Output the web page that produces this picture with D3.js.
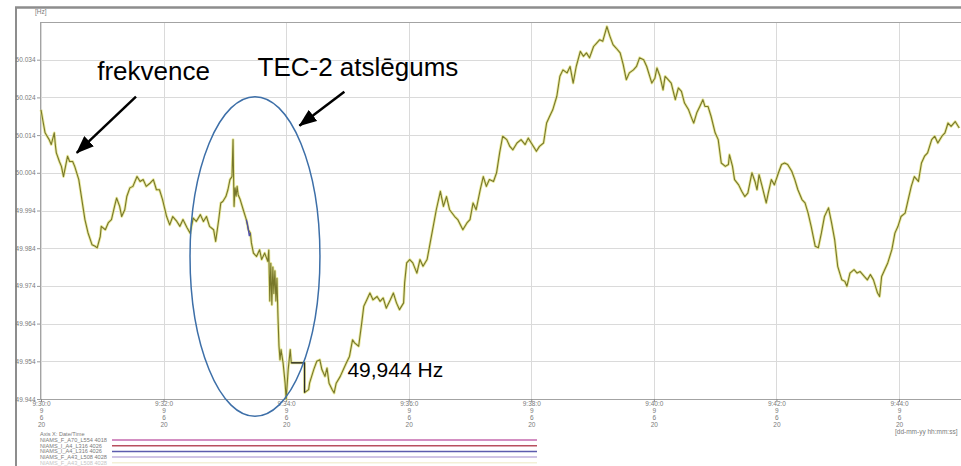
<!DOCTYPE html>
<html>
<head>
<meta charset="utf-8">
<script src="https://cdn.jsdelivr.net/npm/d3@7"></script>
<style>
  html, body { margin: 0; padding: 0; background: #fff; }
  svg { display: block; }
  .tick-text { font-family: "Liberation Sans", Arial, sans-serif; font-size: 6.5px; fill: #7a7a7a; }
  .legend-text { font-family: "Liberation Sans", Arial, sans-serif; font-size: 5.6px; fill: #7a7a7a; }
  .note { font-family: "Liberation Sans", Arial, sans-serif; fill: #000; }
</style>
</head>
<body>
<svg id="chart" width="961" height="466"></svg>
<script>
// Seconds after 09:30:00 (9 June 2020) and measured grid frequency, Hz
const secs = [
  0, 2, 4, 6, 8, 10, 13, 14, 15, 18, 20, 22, 24, 26, 28, 31, 33, 37, 40, 43,
  46, 50, 53, 55, 58, 59, 63, 66, 69, 72, 74, 77, 79, 82, 84, 87, 90, 94, 97, 100,
  103, 107, 110, 113, 116, 119, 123, 126, 129, 133, 136, 139, 143, 146, 149, 152, 156, 159, 162, 165,
  169, 171, 174, 176, 178, 181, 183, 185, 187, 188, 189, 190, 191, 192, 193, 195, 198, 201, 203, 205,
  206, 208, 211, 214, 216, 219, 222, 223, 224, 225, 226, 227, 228, 229, 230, 231, 232, 233, 234, 235,
  237, 239, 240, 242, 244, 245, 258, 258, 262, 263, 267, 270, 273, 275, 278, 280, 282, 285, 287, 289,
  293, 296, 299, 302, 305, 307, 311, 314, 316, 319, 322, 325, 329, 332, 335, 338, 342, 345, 348, 351,
  355, 356, 358, 361, 364, 368, 371, 374, 378, 381, 384, 387, 391, 394, 397, 400, 405, 408, 413, 417,
  420, 423, 426, 430, 433, 436, 439, 443, 446, 449, 452, 456, 459, 462, 466, 470, 474, 477, 480, 485,
  488, 492, 495, 498, 501, 505, 508, 511, 515, 518, 521, 524, 528, 531, 534, 537, 541, 544, 547, 550,
  554, 557, 560, 563, 567, 570, 573, 576, 580, 583, 586, 590, 593, 598, 601, 603, 606, 609, 611, 614,
  617, 621, 624, 627, 630, 634, 637, 639, 642, 645, 648, 650, 653, 656, 660, 663, 666, 670, 673, 674,
  677, 679, 683, 686, 689, 692, 696, 699, 701, 703, 706, 710, 712, 715, 718, 722, 725, 728, 731, 735,
  738, 741, 745, 748, 751, 754, 758, 761, 764, 767, 771, 774, 777, 780, 784, 787, 789, 792, 796, 799,
  802, 806, 809, 812, 815, 819, 821, 823, 826, 829, 833, 836, 839, 842, 846, 849, 852, 855, 859, 862,
  865, 868, 872, 875, 878, 882, 885, 888, 891, 895, 899
];
const freqHz = [
  50.0207, 50.0176, 50.0146, 50.0137, 50.0128, 50.0115, 50.0146, 50.0115, 50.0093, 50.0070,
  50.0057, 50.0030, 50.0057, 50.0084, 50.0070, 50.0070, 50.0057, 50.0022, 49.9969, 49.9916,
  49.9881, 49.9849, 49.9845, 49.9841, 49.9871, 49.9898, 49.9889, 49.9908, 49.9916, 49.9951,
  49.9973, 49.9951, 49.9924, 49.9942, 49.9977, 50.0000, 50.0004, 50.0030, 50.0017, 50.0022,
  50.0004, 50.0013, 50.0022, 49.9995, 49.9995, 49.9969, 49.9924, 49.9902, 49.9924, 49.9911,
  49.9898, 49.9916, 49.9894, 49.9880, 49.9920, 49.9911, 49.9929, 49.9911, 49.9924, 49.9898,
  49.9889, 49.9858, 49.9916, 49.9960, 49.9964, 49.9977, 49.9995, 50.0022, 50.0030, 50.0128,
  49.9951, 50.0000, 49.9978, 50.0004, 49.9982, 49.9969, 49.9942, 49.9916, 49.9889, 49.9880,
  49.9854, 49.9827, 49.9818, 49.9836, 49.9810, 49.9827, 49.9805, 49.9835, 49.9700, 49.9800,
  49.9690, 49.9790, 49.9720, 49.9780, 49.9700, 49.9760, 49.9659, 49.9580, 49.9544, 49.9571,
  49.9536, 49.9482, 49.9440, 49.9518, 49.9571, 49.9536, 49.9536, 49.9457, 49.9465, 49.9483,
  49.9518, 49.9540, 49.9544, 49.9518, 49.9500, 49.9522, 49.9482, 49.9465, 49.9456, 49.9482,
  49.9500, 49.9518, 49.9536, 49.9553, 49.9597, 49.9589, 49.9580, 49.9642, 49.9686, 49.9703,
  49.9721, 49.9703, 49.9712, 49.9699, 49.9708, 49.9681, 49.9703, 49.9721, 49.9695, 49.9677,
  49.9695, 49.9748, 49.9801, 49.9810, 49.9801, 49.9774, 49.9810, 49.9792, 49.9810, 49.9854,
  49.9898, 49.9942, 49.9991, 49.9951, 49.9977, 49.9942, 49.9924, 49.9916, 49.9889, 49.9907,
  49.9916, 49.9960, 49.9942, 49.9995, 50.0030, 50.0004, 50.0022, 50.0017, 50.0040, 50.0093,
  50.0137, 50.0128, 50.0110, 50.0101, 50.0119, 50.0128, 50.0115, 50.0132, 50.0119, 50.0097,
  50.0110, 50.0119, 50.0172, 50.0190, 50.0207, 50.0243, 50.0296, 50.0313, 50.0305, 50.0322,
  50.0278, 50.0322, 50.0362, 50.0349, 50.0358, 50.0345, 50.0375, 50.0384, 50.0393, 50.0389,
  50.0428, 50.0402, 50.0380, 50.0371, 50.0358, 50.0327, 50.0287, 50.0305, 50.0313, 50.0322,
  50.0345, 50.0340, 50.0322, 50.0278, 50.0291, 50.0318, 50.0296, 50.0260, 50.0296, 50.0287,
  50.0278, 50.0234, 50.0265, 50.0256, 50.0225, 50.0207, 50.0185, 50.0172, 50.0199, 50.0216,
  50.0234, 50.0216, 50.0216, 50.0190, 50.0146, 50.0128, 50.0066, 50.0057, 50.0062, 50.0088,
  50.0057, 50.0022, 50.0008, 49.9991, 49.9977, 49.9986, 50.0040, 50.0017, 49.9995, 50.0035,
  50.0004, 49.9960, 49.9986, 50.0022, 50.0008, 50.0040, 50.0062, 50.0066, 50.0062, 50.0044,
  50.0022, 49.9995, 49.9969, 49.9960, 49.9933, 49.9898, 49.9845, 49.9841, 49.9880, 49.9924,
  49.9947, 49.9907, 49.9863, 49.9792, 49.9756, 49.9752, 49.9739, 49.9774, 49.9783, 49.9774,
  49.9778, 49.9765, 49.9756, 49.9770, 49.9756, 49.9721, 49.9712, 49.9765, 49.9783, 49.9801,
  49.9836, 49.9880, 49.9898, 49.9924, 49.9933, 49.9969, 50.0004, 50.0030, 50.0017, 50.0066,
  50.0084, 50.0093, 50.0128, 50.0137, 50.0119, 50.0137, 50.0146, 50.0172, 50.0163, 50.0176,
  50.0159
];

// Short stretch recorded by the second measuring channel
const altSecs = [201, 202, 203, 204, 205];
const altHz = [49.9916, 49.9905, 49.9889, 49.9872, 49.9880];

// Last value held while samples were missing
const holdSecs = [245, 258, 258];
const holdHz = [49.9536, 49.9536, 49.9457];

// Axis ticks
const yTicks = [49.944, 49.954, 49.964, 49.974, 49.984, 49.994, 50.004, 50.014, 50.024, 50.034];
const xTickMinutes = [0, 2, 4, 6, 8, 10, 12, 14];
const yUnit = "[Hz]";
const xUnit = "[dd-mm-yy hh:mm:ss]";

// Legend rows
const legendTitle = "Axis X: Date/Time";
const legendNames = [
  "NIAMS_F_A70_L554 4018",
  "NIAMS_I_A4_L316 4026",
  "NIAMS_I_A4_L316 4026",
  "NIAMS_F_A43_L508 4028",
  "NIAMS_F_A43_L508 4028"
];
const legendColors = ["#c46aae", "#b8505e", "#5c5cae", "#bfb0dc", "#e6e0a8"];

// Callouts (time in s, frequency in Hz)
const freqLabel = { text: "frekvence", t: 55, hz: 50.0287 };
const freqArrow = { t0: 93, hz0: 50.0242, t1: 35, hz1: 50.0093 };
const tripLabel = { text: "TEC-2 atslēgums", t: 212, hz: 50.0298 };
const tripArrow = { t0: 297, hz0: 50.0255, t1: 253, hz1: 50.0165 };
const tripRing = { t: 209.5, hz: 49.9818, rt: 63.6, rhz: 0.0424 };
const minLabelPos = { t: 300, hz: 49.9499 };

const W = 961, H = 466;
const plot = { left: 40, top: 22, right: 961, bottom: 399 };
const t0 = Date.UTC(2020, 5, 9, 9, 30, 0);
const toDate = s => new Date(t0 + s * 1000);

const x = d3.scaleUtc()
  .domain([toDate(0), toDate(840)])
  .range([41, 899]);
const y = d3.scaleLinear()
  .domain([49.944, 50.044])
  .range([plot.bottom, plot.top]);

const svg = d3.select("#chart");
svg.append("rect").attr("width", W).attr("height", H).attr("fill", "#fff");

// window frame
svg.append("line").attr("x1", 15).attr("x2", W).attr("y1", 7.5).attr("y2", 7.5)
  .attr("stroke", "#8d8d8d").attr("stroke-width", 2.5);
svg.append("line").attr("x1", 16).attr("x2", 16).attr("y1", 7).attr("y2", H)
  .attr("stroke", "#8d8d8d").attr("stroke-width", 2);

// grid
const grid = svg.append("g");
grid.selectAll("line.h").data(yTicks).join("line")
  .attr("x1", plot.left).attr("x2", plot.right)
  .attr("y1", d => Math.round(y(d)) + 0.5).attr("y2", d => Math.round(y(d)) + 0.5)
  .attr("stroke", "#dadada").attr("stroke-width", 1);
const xTickDates = xTickMinutes.map(m => toDate(m * 60));
grid.selectAll("line.v").data(xTickDates).join("line")
  .attr("x1", d => Math.round(x(d)) + 0.5).attr("x2", d => Math.round(x(d)) + 0.5)
  .attr("y1", plot.top).attr("y2", plot.bottom)
  .attr("stroke", "#dadada").attr("stroke-width", 1);

// plot border
svg.append("line").attr("x1", plot.left).attr("x2", plot.right)
  .attr("y1", plot.top + 0.5).attr("y2", plot.top + 0.5).attr("stroke", "#a3a3a3");
svg.append("line").attr("x1", plot.left + 0.5).attr("x2", plot.left + 0.5)
  .attr("y1", plot.top).attr("y2", plot.bottom).attr("stroke", "#a3a3a3");
svg.append("line").attr("x1", plot.left).attr("x2", plot.right)
  .attr("y1", plot.bottom + 0.5).attr("y2", plot.bottom + 0.5).attr("stroke", "#a3a3a3");

// y axis labels
const fmtY = d3.format(".3f");
const yAxis = svg.append("g").attr("transform", `translate(${plot.left},0)`)
  .call(d3.axisLeft(y).tickValues(yTicks).tickFormat(fmtY).tickSize(3).tickPadding(1.5));
yAxis.select(".domain").remove();
yAxis.selectAll(".tick line").attr("stroke", "#9a9a9a");
yAxis.selectAll(".tick text").attr("class", "tick-text").attr("fill", null)
  .attr("font-family", null).attr("font-size", null);

svg.append("text").attr("class", "tick-text").attr("x", 35).attr("y", 14).text(yUnit);

// x axis: clock time followed by day, month, year on separate rows
const fmtClock = d3.utcFormat("%-H:%-M:%-S");
const dateFmts = [d3.utcFormat("%-d"), d3.utcFormat("%-m"), d3.utcFormat("%y")];
const xAxis = svg.append("g").attr("transform", `translate(0,${plot.bottom})`)
  .call(d3.axisBottom(x).tickValues(xTickDates).tickFormat(fmtClock).tickSize(3).tickPadding(3));
xAxis.select(".domain").remove();
xAxis.selectAll(".tick line").attr("stroke", "#8a8a8a");
xAxis.selectAll(".tick text").attr("class", "tick-text").attr("fill", null)
  .attr("font-family", null).attr("font-size", null).attr("dy", null).attr("y", 7.3);
xAxis.selectAll(".tick").each(function (d) {
  const g = d3.select(this);
  dateFmts.forEach((f, i) => {
    g.append("text").attr("class", "tick-text").attr("text-anchor", "middle")
      .attr("y", 14 + i * 6.8).text(f(d));
  });
});
svg.append("text").attr("class", "tick-text").attr("x", 895).attr("y", 434).text(xUnit);

// legend
const legend = svg.append("g");
legend.append("text").attr("class", "legend-text").attr("x", 40).attr("y", 435.5).text(legendTitle);
const rows = legend.selectAll("g.row").data(legendNames).join("g")
  .attr("transform", (d, i) => `translate(0,${440 + i * 5.7})`)
  .attr("opacity", (d, i) => i === legendNames.length - 1 ? 0.45 : 1);
rows.append("text").attr("class", "legend-text").attr("x", 40).attr("y", 2).text(d => d);
rows.append("line").attr("x1", 112).attr("x2", 537).attr("y1", 0).attr("y2", 0)
  .attr("stroke", (d, i) => legendColors[i]).attr("stroke-width", 1.5);

// frequency trace
const series = secs.map((s, i) => [toDate(s), freqHz[i]]);
const line = d3.line().x(d => x(d[0])).y(d => y(d[1]));
svg.append("path").datum(series).attr("d", line)
  .attr("fill", "none").attr("stroke", "#e3e385").attr("stroke-width", 2.8)
  .attr("stroke-linejoin", "round").attr("opacity", 0.8);
svg.append("path").datum(series).attr("d", line)
  .attr("fill", "none").attr("stroke", "#77772a").attr("stroke-width", 1.1)
  .attr("stroke-linejoin", "round");

const alt = altSecs.map((s, i) => [toDate(s), altHz[i]]);
svg.append("path").datum(alt).attr("d", line)
  .attr("fill", "none").attr("stroke", "#5050a8").attr("stroke-width", 1.4);

const hold = holdSecs.map((s, i) => [toDate(s), holdHz[i]]);
svg.append("path").datum(hold).attr("d", line)
  .attr("fill", "none").attr("stroke", "#2a2a2a").attr("stroke-width", 1.3);

// callouts
const defs = svg.append("defs");
defs.append("marker").attr("id", "head")
  .attr("markerUnits", "userSpaceOnUse")
  .attr("markerWidth", 18).attr("markerHeight", 14)
  .attr("refX", 17).attr("refY", 7).attr("orient", "auto")
  .append("path").attr("d", "M0,0 L18,7 L0,14 Z").attr("fill", "#000");

[freqArrow, tripArrow].forEach(a => {
  svg.append("line")
    .attr("x1", x(toDate(a.t0))).attr("y1", y(a.hz0))
    .attr("x2", x(toDate(a.t1))).attr("y2", y(a.hz1))
    .attr("stroke", "#000").attr("stroke-width", 2.5)
    .attr("marker-end", "url(#head)");
});

svg.append("ellipse")
  .attr("cx", x(toDate(tripRing.t))).attr("cy", y(tripRing.hz))
  .attr("rx", x(toDate(tripRing.t + tripRing.rt)) - x(toDate(tripRing.t)))
  .attr("ry", y(tripRing.hz - tripRing.rhz) - y(tripRing.hz))
  .attr("fill", "none").attr("stroke", "#3d6fa8").attr("stroke-width", 1.5);

svg.append("text").attr("class", "note").attr("font-size", 26)
  .attr("x", x(toDate(freqLabel.t))).attr("y", y(freqLabel.hz)).text(freqLabel.text);
svg.append("text").attr("class", "note").attr("font-size", 26)
  .attr("x", x(toDate(tripLabel.t))).attr("y", y(tripLabel.hz)).text(tripLabel.text);

const minHz = d3.min(freqHz);
svg.append("text").attr("class", "note").attr("font-size", 21)
  .attr("x", x(toDate(minLabelPos.t))).attr("y", y(minLabelPos.hz))
  .text(fmtY(minHz).replace(".", ",") + " Hz");
</script>
</body>
</html>
